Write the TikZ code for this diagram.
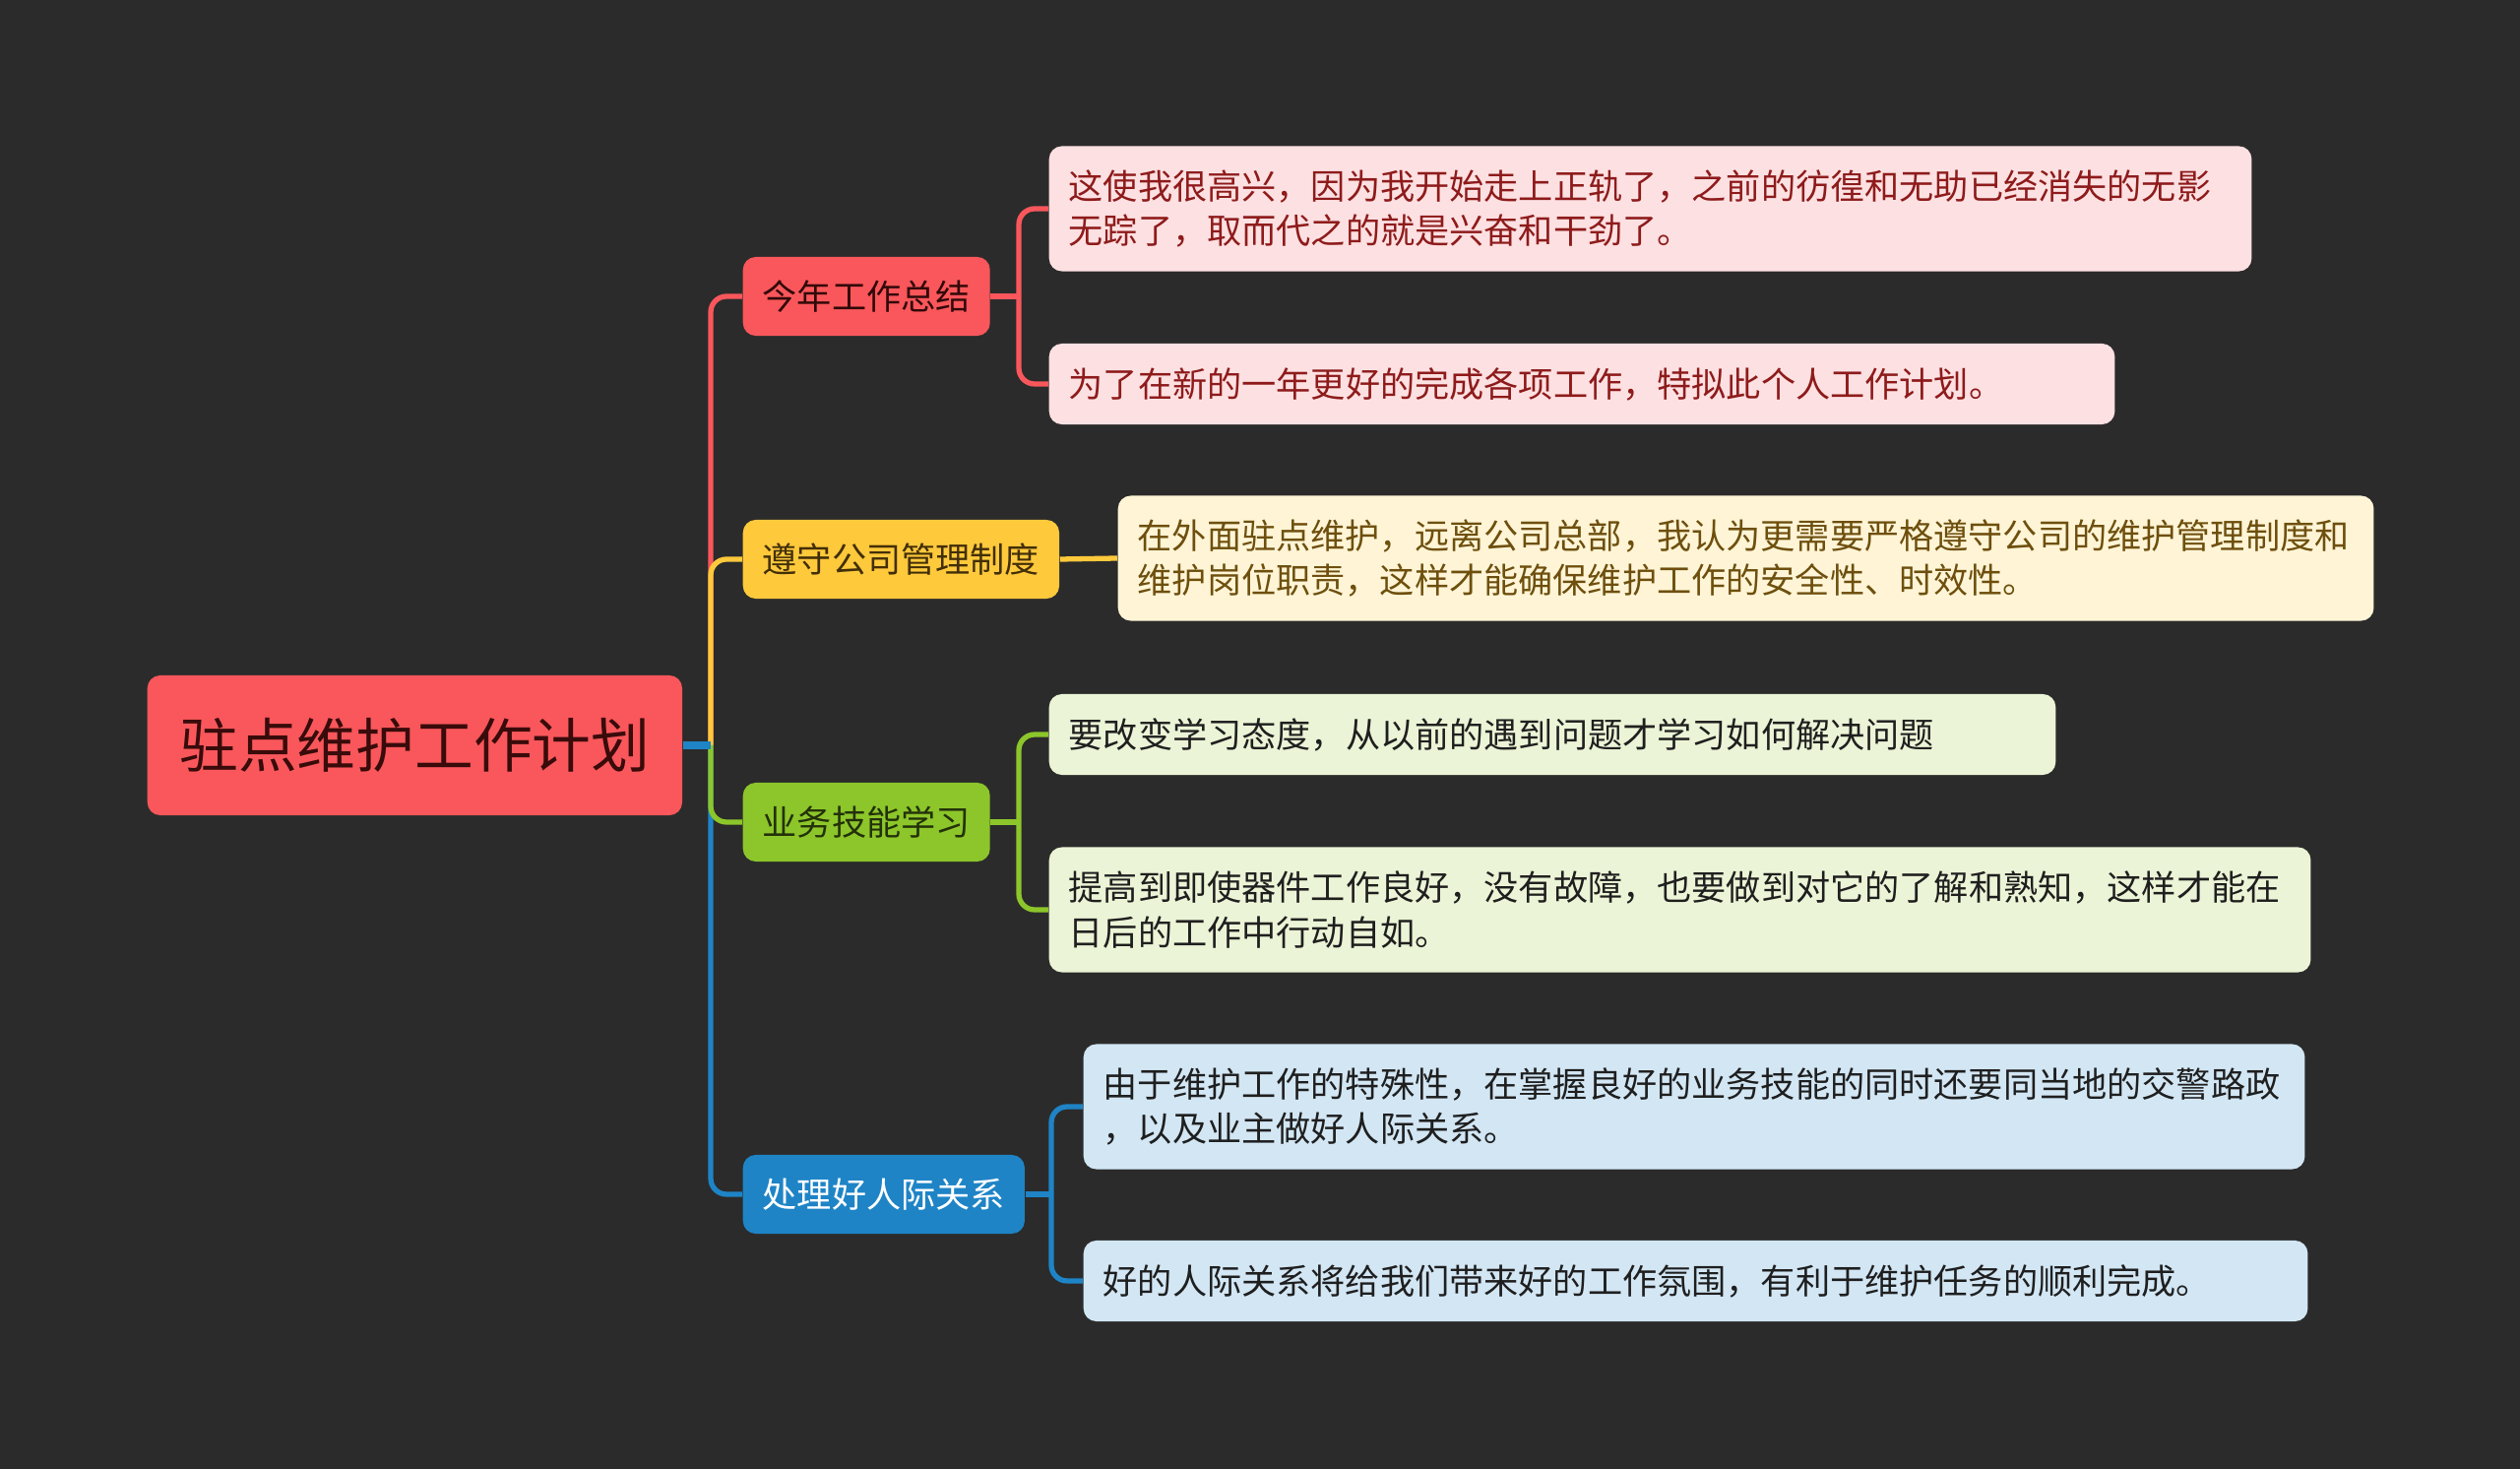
\documentclass[tikz,border=0pt]{standalone}
\usepackage{fontspec}
\setmainfont{Noto Sans CJK SC}
\usepackage{xcolor}
\definecolor{bgdark}{HTML}{2B2B2B}
\definecolor{cred}{HTML}{F9575B}
\definecolor{cyellow}{HTML}{FFC93C}
\definecolor{cgreen}{HTML}{8CC62A}
\definecolor{cblue}{HTML}{1E84C6}
\definecolor{lred}{HTML}{FDE0E2}
\definecolor{lyellow}{HTML}{FFF5D6}
\definecolor{lgreen}{HTML}{EBF4D6}
\definecolor{lblue}{HTML}{D2E6F4}
\definecolor{tred}{HTML}{8E1B1B}
\definecolor{tyellow}{HTML}{6E4F0E}
\definecolor{tdark}{HTML}{1F1F1F}

\begin{document}
\begin{tikzpicture}[x=0.01cm,y=-0.01cm,
  topic/.style={rounded corners=0.13cm, anchor=west, inner xsep=0.2cm, inner ysep=0pt,
    minimum height=0.8cm, font=\fontsize{10pt}{13pt}\selectfont},
  leaf/.style={rounded corners=0.13cm, anchor=west, inner xsep=0.2cm, inner ysep=0pt,
    align=left, font=\fontsize{10pt}{13pt}\selectfont},
  link/.style={line width=1.5pt, rounded corners=0.16cm}]
  \fill[bgdark] (0,0) rectangle (2560,1492);
  \useasboundingbox (0,0) rectangle (2560,1492);

  \node[topic, fill=cred, text=tred!40!black, minimum width=5.43cm, minimum height=1.42cm,
    font=\fontsize{17pt}{20pt}\selectfont] (root) at (149,757) {驻点维护工作计划};

  \node[topic, fill=cred, text=tred!35!black] (sum) at (754,301) {今年工作总结};
  \node[topic, fill=cyellow, text=tyellow!60!black] (rule) at (754,568) {遵守公司管理制度};
  \node[topic, fill=cgreen, text=cgreen!25!black] (skill) at (754,835) {业务技能学习};
  \node[topic, fill=cblue, text=white] (rel) at (754,1213) {处理好人际关系};

  \node[leaf, fill=lred, text=tred, text width=11.81cm, minimum height=1.27cm] (sumA) at (1065,212)
    {这使我很高兴，因为我开始走上正轨了，之前的彷徨和无助已经消失的无影\\无踪了，取而代之的就是兴奋和干劲了。};
  \node[leaf, fill=lred, text=tred, text width=10.42cm, minimum height=0.82cm] (sumB) at (1065,390)
    {为了在新的一年更好的完成各项工作，特拟此个人工作计划。};
  \node[leaf, fill=lyellow, text=tyellow, text width=12.35cm, minimum height=1.27cm] (ruleA) at (1135,567)
    {在外面驻点维护，远离公司总部，我认为更需要严格遵守公司的维护管理制度和\\维护岗位职责，这样才能确保维护工作的安全性、时效性。};
  \node[leaf, fill=lgreen, text=tdark, text width=9.82cm, minimum height=0.82cm] (skillA) at (1065,746)
    {要改变学习态度，从以前的遇到问题才学习如何解决问题};
  \node[leaf, fill=lgreen, text=tdark, text width=12.41cm, minimum height=1.27cm] (skillB) at (1065,924)
    {提高到即使器件工作良好，没有故障，也要做到对它的了解和熟知，这样才能在\\日后的工作中行动自如。};
  \node[leaf, fill=lblue, text=tdark, text width=12.0cm, minimum height=1.27cm] (relA) at (1100,1124)
    {由于维护工作的特殊性，在掌握良好的业务技能的同时还要同当地的交警路政\\，以及业主做好人际关系。};
  \node[leaf, fill=lblue, text=tdark, text width=12.03cm, minimum height=0.82cm] (relB) at (1100,1301)
    {好的人际关系将给我们带来好的工作氛围，有利于维护任务的顺利完成。};

  \coordinate (trunk) at (722,757);
  \coordinate (fsum) at (1035,301);
  \coordinate (fskill) at (1035,835);
  \coordinate (frel) at (1068,1213);

  \draw[link, cred] (trunk) |- (sum.west);
  \draw[link, cyellow] (trunk) |- (rule.west);
  \draw[link, cblue] (trunk) |- (rel.west);
  \draw[link, cgreen] (trunk) |- (skill.west);
  \draw[cblue, line width=2.4pt] (root.east) -- (trunk);

  \draw[link, cred] (sum.east) -- (fsum);
  \draw[link, cred] (fsum) |- (sumA.west);
  \draw[link, cred] (fsum) |- (sumB.west);
  \draw[link, cyellow] (rule.east) -- (ruleA.west);
  \draw[link, cgreen] (skill.east) -- (fskill);
  \draw[link, cgreen] (fskill) |- (skillA.west);
  \draw[link, cgreen] (fskill) |- (skillB.west);
  \draw[link, cblue] (rel.east) -- (frel);
  \draw[link, cblue] (frel) |- (relA.west);
  \draw[link, cblue] (frel) |- (relB.west);
\end{tikzpicture}
\end{document}
